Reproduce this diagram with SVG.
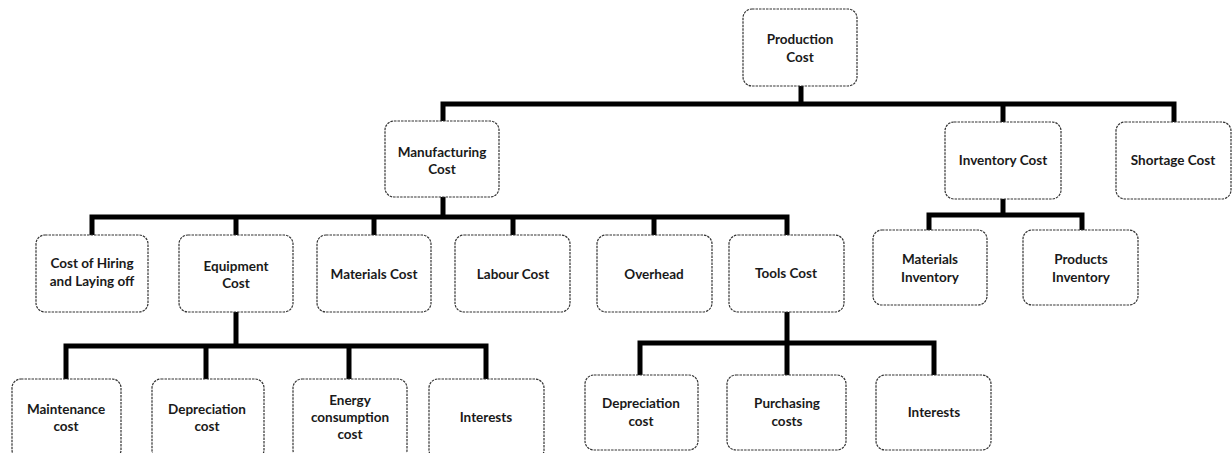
<svg xmlns="http://www.w3.org/2000/svg" width="1232" height="453" viewBox="0 0 1232 453">
  <style>
    .box { fill: #ffffff; stroke: #333333; stroke-width: 1.2; stroke-dasharray: 2.5 1; }
    .lbl { font-family: Lato, "Open Sans", "Liberation Sans", sans-serif; font-size: 13.5px; font-weight: bold; fill: #1a1a1a; text-anchor: middle; }
    .wire { fill: none; stroke: #000000; stroke-width: 5; stroke-linecap: square; stroke-linejoin: miter; }
  </style>
  <rect width="1232" height="453" fill="#ffffff"/>

  <!-- connectors -->
  <g id="connectors" class="wire">
    <path d="M801 86 V104 M443 104 H1174 M443 104 V121 M1003 104 V122 M1174 104 V122"/>
    <path d="M443 197 V217 M92 217 H787 M92 217 V235 M236 217 V235 M374 217 V235 M513 217 V235 M654 217 V235 M787 217 V235"/>
    <path d="M236 312 V346 M66 346 H486 M66 346 V379 M206 346 V379 M349 346 V379 M486 346 V379"/>
    <path d="M787 312 V375 M640 343 H934 M640 343 V375 M934 343 V375"/>
    <path d="M1003 199 V215 M929 215 H1082 M929 215 V230 M1082 215 V230"/>
  </g>

  <!-- level 0 -->
  <g id="production-cost">
    <rect class="box" x="743" y="9" width="114" height="77" rx="9"/>
    <text class="lbl" x="800" y="44">Production</text>
    <text class="lbl" x="800" y="62">Cost</text>
  </g>

  <!-- level 1 -->
  <g id="manufacturing-cost">
    <rect class="box" x="385" y="121" width="114" height="76" rx="9"/>
    <text class="lbl" x="442" y="157">Manufacturing</text>
    <text class="lbl" x="442" y="174">Cost</text>
  </g>
  <g id="inventory-cost">
    <rect class="box" x="945" y="122" width="116" height="77" rx="9"/>
    <text class="lbl" x="1003" y="165">Inventory Cost</text>
  </g>
  <g id="shortage-cost">
    <rect class="box" x="1116" y="122" width="115" height="77" rx="9"/>
    <text class="lbl" x="1173" y="165">Shortage Cost</text>
  </g>

  <!-- level 2: manufacturing -->
  <g id="hiring-cost">
    <rect class="box" x="36" y="235" width="112" height="77" rx="9"/>
    <text class="lbl" x="92" y="268">Cost of Hiring</text>
    <text class="lbl" x="92" y="286">and Laying off</text>
  </g>
  <g id="equipment-cost">
    <rect class="box" x="179" y="235" width="114" height="77" rx="9"/>
    <text class="lbl" x="236" y="271">Equipment</text>
    <text class="lbl" x="236" y="288">Cost</text>
  </g>
  <g id="materials-cost">
    <rect class="box" x="317" y="235" width="114" height="77" rx="9"/>
    <text class="lbl" x="374" y="279">Materials Cost</text>
  </g>
  <g id="labour-cost">
    <rect class="box" x="455" y="235" width="115" height="77" rx="9"/>
    <text class="lbl" x="513" y="279">Labour Cost</text>
  </g>
  <g id="overhead">
    <rect class="box" x="597" y="235" width="115" height="77" rx="9"/>
    <text class="lbl" x="654" y="279">Overhead</text>
  </g>
  <g id="tools-cost">
    <rect class="box" x="729" y="235" width="115" height="77" rx="9"/>
    <text class="lbl" x="786" y="278">Tools Cost</text>
  </g>

  <!-- level 2: inventory -->
  <g id="materials-inventory">
    <rect class="box" x="873" y="230" width="114" height="75" rx="9"/>
    <text class="lbl" x="930" y="264">Materials</text>
    <text class="lbl" x="930" y="282">Inventory</text>
  </g>
  <g id="products-inventory">
    <rect class="box" x="1023" y="230" width="115" height="75" rx="9"/>
    <text class="lbl" x="1081" y="264">Products</text>
    <text class="lbl" x="1081" y="282">Inventory</text>
  </g>

  <!-- level 3: equipment -->
  <g id="maintenance-cost">
    <rect class="box" x="12" y="379" width="109" height="80" rx="9"/>
    <text class="lbl" x="66" y="414">Maintenance</text>
    <text class="lbl" x="66" y="431">cost</text>
  </g>
  <g id="equipment-depreciation">
    <rect class="box" x="152" y="379" width="112" height="80" rx="9"/>
    <text class="lbl" x="207" y="414">Depreciation</text>
    <text class="lbl" x="207" y="431">cost</text>
  </g>
  <g id="energy-cost">
    <rect class="box" x="293" y="379" width="114" height="80" rx="9"/>
    <text class="lbl" x="350" y="405">Energy</text>
    <text class="lbl" x="350" y="422">consumption</text>
    <text class="lbl" x="350" y="439">cost</text>
  </g>
  <g id="equipment-interests">
    <rect class="box" x="429" y="379" width="115" height="80" rx="9"/>
    <text class="lbl" x="486" y="422">Interests</text>
  </g>

  <!-- level 3: tools -->
  <g id="tools-depreciation">
    <rect class="box" x="585" y="375" width="113" height="75" rx="9"/>
    <text class="lbl" x="641" y="408">Depreciation</text>
    <text class="lbl" x="641" y="426">cost</text>
  </g>
  <g id="purchasing-costs">
    <rect class="box" x="727" y="375" width="119" height="75" rx="9"/>
    <text class="lbl" x="787" y="408">Purchasing</text>
    <text class="lbl" x="787" y="426">costs</text>
  </g>
  <g id="tools-interests">
    <rect class="box" x="876" y="375" width="115" height="75" rx="9"/>
    <text class="lbl" x="934" y="417">Interests</text>
  </g>
</svg>
